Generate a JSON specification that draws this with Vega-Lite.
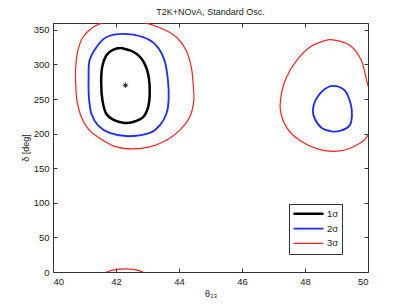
{
  "$schema": "https://vega.github.io/schema/vega-lite/v6.json",
  "width": 315,
  "height": 249,
  "autosize": {"type": "none"},
  "padding": {"left": 53, "top": 23, "right": 39, "bottom": 34},
  "background": "white",
  "config": {
    "font": "Liberation Sans",
    "view": {"stroke": "#333", "strokeWidth": 1},
    "axis": {"grid": false, "labelFont": "Liberation Sans", "titleFont": "Liberation Sans", "labelFontSize": 9.5, "titleFontSize": 9, "titleFontWeight": "normal", "labelColor": "#222", "titleColor": "#222", "domainColor": "#333", "tickColor": "#333", "tickSize": -4, "labelPadding": 8}
  },
  "title": {"text": "T2K+NOνA, Standard Osc.", "fontSize": 9, "fontWeight": "normal", "font": "Liberation Sans", "color": "#222", "offset": 6},
  "datasets": {
    "contours": [
      {"level": "1σ", "seg": "1L", "i": 0, "x": 42.20, "y": 323.6},
      {"level": "1σ", "seg": "1L", "i": 1, "x": 42.65, "y": 315.4},
      {"level": "1σ", "seg": "1L", "i": 2, "x": 42.91, "y": 301.0},
      {"level": "1σ", "seg": "1L", "i": 3, "x": 43.04, "y": 281.7},
      {"level": "1σ", "seg": "1L", "i": 4, "x": 43.07, "y": 257.7},
      {"level": "1σ", "seg": "1L", "i": 5, "x": 43.02, "y": 238.5},
      {"level": "1σ", "seg": "1L", "i": 6, "x": 42.86, "y": 224.0},
      {"level": "1σ", "seg": "1L", "i": 7, "x": 42.54, "y": 216.8},
      {"level": "1σ", "seg": "1L", "i": 8, "x": 42.28, "y": 215.4},
      {"level": "1σ", "seg": "1L", "i": 9, "x": 41.96, "y": 219.2},
      {"level": "1σ", "seg": "1L", "i": 10, "x": 41.69, "y": 228.8},
      {"level": "1σ", "seg": "1L", "i": 11, "x": 41.57, "y": 248.1},
      {"level": "1σ", "seg": "1L", "i": 12, "x": 41.53, "y": 272.1},
      {"level": "1σ", "seg": "1L", "i": 13, "x": 41.56, "y": 296.2},
      {"level": "1σ", "seg": "1L", "i": 14, "x": 41.69, "y": 313.0},
      {"level": "1σ", "seg": "1L", "i": 15, "x": 41.90, "y": 321.2},

      {"level": "2σ", "seg": "2L", "i": 0, "x": 42.22, "y": 344.2},
      {"level": "2σ", "seg": "2L", "i": 1, "x": 42.86, "y": 339.4},
      {"level": "2σ", "seg": "2L", "i": 2, "x": 43.28, "y": 327.4},
      {"level": "2σ", "seg": "2L", "i": 3, "x": 43.54, "y": 305.8},
      {"level": "2σ", "seg": "2L", "i": 4, "x": 43.65, "y": 276.9},
      {"level": "2σ", "seg": "2L", "i": 5, "x": 43.67, "y": 248.1},
      {"level": "2σ", "seg": "2L", "i": 6, "x": 43.60, "y": 228.8},
      {"level": "2σ", "seg": "2L", "i": 7, "x": 43.39, "y": 212.0},
      {"level": "2σ", "seg": "2L", "i": 8, "x": 43.07, "y": 201.0},
      {"level": "2σ", "seg": "2L", "i": 9, "x": 42.38, "y": 196.2},
      {"level": "2σ", "seg": "2L", "i": 10, "x": 41.80, "y": 201.0},
      {"level": "2σ", "seg": "2L", "i": 11, "x": 41.43, "y": 212.0},
      {"level": "2σ", "seg": "2L", "i": 12, "x": 41.22, "y": 228.8},
      {"level": "2σ", "seg": "2L", "i": 13, "x": 41.14, "y": 252.9},
      {"level": "2σ", "seg": "2L", "i": 14, "x": 41.13, "y": 281.7},
      {"level": "2σ", "seg": "2L", "i": 15, "x": 41.16, "y": 305.8},
      {"level": "2σ", "seg": "2L", "i": 16, "x": 41.38, "y": 325.0},
      {"level": "2σ", "seg": "2L", "i": 17, "x": 41.69, "y": 339.4},

      {"level": "2σ", "seg": "2R", "i": 0, "x": 48.89, "y": 269.2},
      {"level": "2σ", "seg": "2R", "i": 1, "x": 49.26, "y": 262.5},
      {"level": "2σ", "seg": "2R", "i": 2, "x": 49.45, "y": 243.3},
      {"level": "2σ", "seg": "2R", "i": 3, "x": 49.49, "y": 226.4},
      {"level": "2σ", "seg": "2R", "i": 4, "x": 49.42, "y": 212.0},
      {"level": "2σ", "seg": "2R", "i": 5, "x": 49.16, "y": 204.8},
      {"level": "2σ", "seg": "2R", "i": 6, "x": 48.84, "y": 203.3},
      {"level": "2σ", "seg": "2R", "i": 7, "x": 48.52, "y": 208.7},
      {"level": "2σ", "seg": "2R", "i": 8, "x": 48.31, "y": 221.6},
      {"level": "2σ", "seg": "2R", "i": 9, "x": 48.25, "y": 233.6},
      {"level": "2σ", "seg": "2R", "i": 10, "x": 48.33, "y": 248.1},
      {"level": "2σ", "seg": "2R", "i": 11, "x": 48.57, "y": 262.5},

      {"level": "3σ", "seg": "3L", "i": 0, "x": 42.28, "y": 364.4},
      {"level": "3σ", "seg": "3L", "i": 1, "x": 42.90, "y": 360.5},
      {"level": "3σ", "seg": "3L", "i": 2, "x": 43.49, "y": 351.4},
      {"level": "3σ", "seg": "3L", "i": 3, "x": 43.92, "y": 339.4},
      {"level": "3σ", "seg": "3L", "i": 4, "x": 44.23, "y": 320.2},
      {"level": "3σ", "seg": "3L", "i": 5, "x": 44.39, "y": 296.2},
      {"level": "3σ", "seg": "3L", "i": 6, "x": 44.44, "y": 276.9},
      {"level": "3σ", "seg": "3L", "i": 7, "x": 44.47, "y": 248.1},
      {"level": "3σ", "seg": "3L", "i": 8, "x": 44.34, "y": 224.0},
      {"level": "3σ", "seg": "3L", "i": 9, "x": 44.02, "y": 204.8},
      {"level": "3σ", "seg": "3L", "i": 10, "x": 43.60, "y": 190.4},
      {"level": "3σ", "seg": "3L", "i": 11, "x": 43.07, "y": 180.8},
      {"level": "3σ", "seg": "3L", "i": 12, "x": 42.54, "y": 177.9},
      {"level": "3σ", "seg": "3L", "i": 13, "x": 42.01, "y": 180.8},
      {"level": "3σ", "seg": "3L", "i": 14, "x": 41.59, "y": 190.4},
      {"level": "3σ", "seg": "3L", "i": 15, "x": 41.16, "y": 204.8},
      {"level": "3σ", "seg": "3L", "i": 16, "x": 40.90, "y": 224.0},
      {"level": "3σ", "seg": "3L", "i": 17, "x": 40.76, "y": 248.1},
      {"level": "3σ", "seg": "3L", "i": 18, "x": 40.72, "y": 272.1},
      {"level": "3σ", "seg": "3L", "i": 19, "x": 40.72, "y": 296.2},
      {"level": "3σ", "seg": "3L", "i": 20, "x": 40.79, "y": 320.2},
      {"level": "3σ", "seg": "3L", "i": 21, "x": 40.95, "y": 339.4},
      {"level": "3σ", "seg": "3L", "i": 22, "x": 41.27, "y": 353.8},
      {"level": "3σ", "seg": "3L", "i": 23, "x": 41.64, "y": 361.0},

      {"level": "3σ", "seg": "3R", "i": 0, "x": 48.89, "y": 335.6},
      {"level": "3σ", "seg": "3R", "i": 1, "x": 49.42, "y": 327.8},
      {"level": "3σ", "seg": "3R", "i": 2, "x": 49.79, "y": 305.7},
      {"level": "3σ", "seg": "3R", "i": 3, "x": 50.00, "y": 269.7},
      {"level": "3σ", "seg": "3R", "i": 4, "x": 50.30, "y": 235.0},
      {"level": "3σ", "seg": "3R", "i": 5, "x": 50.00, "y": 197.6},
      {"level": "3σ", "seg": "3R", "i": 6, "x": 49.63, "y": 183.2},
      {"level": "3σ", "seg": "3R", "i": 7, "x": 49.10, "y": 175.0},
      {"level": "3σ", "seg": "3R", "i": 8, "x": 48.47, "y": 177.0},
      {"level": "3σ", "seg": "3R", "i": 9, "x": 47.83, "y": 190.4},
      {"level": "3σ", "seg": "3R", "i": 10, "x": 47.41, "y": 209.5},
      {"level": "3σ", "seg": "3R", "i": 11, "x": 47.22, "y": 233.6},
      {"level": "3σ", "seg": "3R", "i": 12, "x": 47.25, "y": 257.7},
      {"level": "3σ", "seg": "3R", "i": 13, "x": 47.41, "y": 281.7},
      {"level": "3σ", "seg": "3R", "i": 14, "x": 47.73, "y": 305.7},
      {"level": "3σ", "seg": "3R", "i": 15, "x": 48.15, "y": 325.0},
      {"level": "3σ", "seg": "3R", "i": 16, "x": 48.57, "y": 333.6}
    ],
    "arc": [
      {"level": "3σ", "seg": "3B", "i": 0, "x": 41.70, "y": 0.0},
      {"level": "3σ", "seg": "3B", "i": 1, "x": 41.95, "y": 3.0},
      {"level": "3σ", "seg": "3B", "i": 2, "x": 42.28, "y": 4.4},
      {"level": "3σ", "seg": "3B", "i": 3, "x": 42.60, "y": 3.4},
      {"level": "3σ", "seg": "3B", "i": 4, "x": 42.86, "y": 0.0}
    ],
    "best": [{"x": 42.3, "y": 270}]
  },
  "layer": [
    {
      "data": {"name": "contours"},
      "mark": {"type": "line", "clip": true, "interpolate": "cardinal-closed"},
      "encoding": {
        "x": {"field": "x", "type": "quantitative", "scale": {"domain": [40, 50], "nice": false, "zero": false}, "axis": {"values": [40, 42, 44, 46, 48, 50], "title": "θ₂₃", "titlePadding": 4}},
        "y": {"field": "y", "type": "quantitative", "scale": {"domain": [0, 360], "nice": false}, "axis": {"values": [0, 50, 100, 150, 200, 250, 300, 350], "title": "δ [deg]", "titlePadding": 3}},
        "detail": {"field": "seg"},
        "order": {"field": "i", "type": "quantitative"},
        "color": {"field": "level", "type": "nominal", "scale": {"domain": ["1σ", "2σ", "3σ"], "range": ["#000000", "#1f2dff", "#ff2020"]},
          "legend": {"title": null, "orient": "none", "legendX": 236, "legendY": 181, "symbolType": "stroke", "symbolSize": 900, "clipHeight": 13.5, "rowPadding": 0.8, "labelFontSize": 9.5, "labelFont": "Liberation Sans", "labelColor": "#222", "strokeColor": "#333", "fillColor": "white", "padding": 3, "labelOffset": 2}},
        "strokeWidth": {"field": "level", "type": "nominal", "scale": {"domain": ["1σ", "2σ", "3σ"], "range": [2.5, 1.2, 0.8]}}
      }
    },
    {
      "data": {"name": "arc"},
      "mark": {"type": "line", "clip": true, "interpolate": "cardinal"},
      "encoding": {
        "x": {"field": "x", "type": "quantitative", "axis": null},
        "y": {"field": "y", "type": "quantitative", "axis": null},
        "order": {"field": "i", "type": "quantitative"},
        "color": {"field": "level", "type": "nominal"},
        "strokeWidth": {"field": "level", "type": "nominal"}
      }
    },
    {
      "data": {"name": "best"},
      "mark": {"type": "point", "shape": "M-1,0L1,0M0,-1L0,1M-0.7,-0.7L0.7,0.7M-0.7,0.7L0.7,-0.7", "filled": false, "stroke": "black", "strokeWidth": 0.8, "size": 30, "opacity": 1},
      "encoding": {
        "x": {"field": "x", "type": "quantitative", "axis": {"orient": "top", "values": [40, 42, 44, 46, 48, 50], "labels": false, "domain": false, "title": null}},
        "y": {"field": "y", "type": "quantitative", "axis": {"orient": "right", "values": [0, 50, 100, 150, 200, 250, 300, 350], "labels": false, "domain": false, "title": null}}
      }
    }
  ],
  "resolve": {"axis": {"x": "independent", "y": "independent"}}
}
